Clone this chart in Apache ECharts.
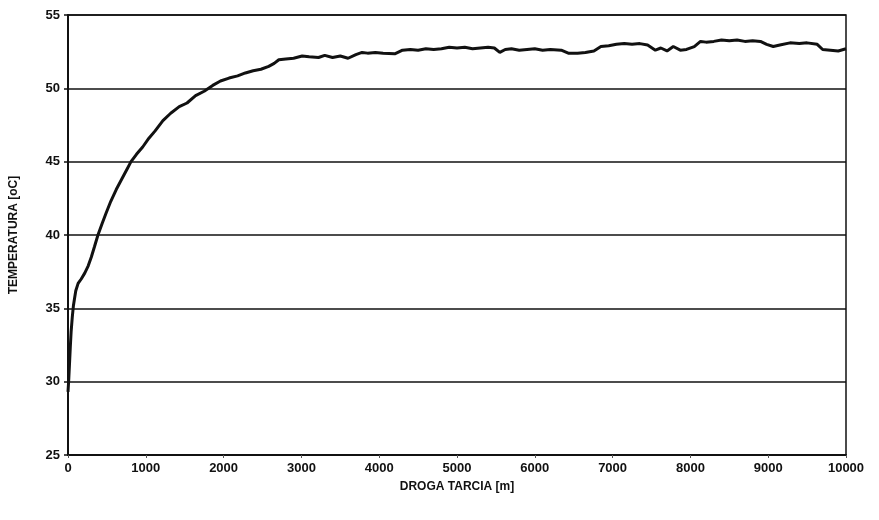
<!DOCTYPE html>
<html>
<head>
<meta charset="utf-8">
<script src="https://cdn.jsdelivr.net/npm/echarts@6/dist/echarts.min.js"></script>
<style>
  html, body { margin: 0; padding: 0; background: #fff; }
  #chart { width: 879px; height: 520px; }
</style>
</head>
<body>
<div id="chart"></div>
<script>
// droga tarcia [m] i temperatura [oC]
var distance = [0, 10, 20, 30, 40, 55, 70, 85, 100, 130, 170, 215, 260, 300, 340, 385, 440, 490, 550, 620,
  700, 760, 810, 880, 960, 1040, 1120, 1220, 1320, 1430, 1530, 1640, 1750, 1860, 1960, 2070, 2180, 2280, 2380, 2480,
  2580, 2650, 2710, 2800, 2900, 3010, 3100, 3220, 3300, 3400, 3500, 3600, 3700, 3780, 3850, 3950, 4050, 4200, 4300, 4400,
  4500, 4600, 4700, 4800, 4900, 5000, 5100, 5200, 5300, 5400, 5480, 5550, 5620, 5700, 5800, 5900, 6000, 6100, 6200, 6340,
  6430, 6550, 6650, 6760, 6850, 6950, 7050, 7150, 7250, 7350, 7450, 7550, 7620, 7700, 7780, 7870, 7950, 8050, 8130, 8200,
  8300, 8400, 8500, 8600, 8700, 8800, 8900, 8980, 9065, 9150, 9280, 9400, 9500, 9630, 9700, 9800, 9900, 10000];
var temperature = [29.3, 30.2, 31.3, 32.4, 33.4, 34.4, 35.2, 35.7, 36.2, 36.7, 37.0, 37.4, 37.9, 38.5, 39.2, 40.0, 40.8, 41.5, 42.3, 43.1,
  43.9, 44.5, 45.0, 45.5, 46.0, 46.6, 47.1, 47.8, 48.3, 48.75, 49.0, 49.5, 49.8, 50.2, 50.5, 50.7, 50.85, 51.05, 51.2, 51.3,
  51.5, 51.7, 51.95, 52.0, 52.05, 52.2, 52.15, 52.1, 52.25, 52.1, 52.2, 52.05, 52.3, 52.45, 52.4, 52.45, 52.4, 52.35, 52.6, 52.65,
  52.6, 52.7, 52.65, 52.7, 52.8, 52.75, 52.8, 52.7, 52.75, 52.8, 52.75, 52.45, 52.65, 52.7, 52.6, 52.65, 52.7, 52.6, 52.65, 52.6,
  52.4, 52.4, 52.45, 52.55, 52.85, 52.9, 53.0, 53.05, 53.0, 53.05, 52.95, 52.6, 52.75, 52.55, 52.85, 52.6, 52.65, 52.85, 53.2, 53.15,
  53.2, 53.3, 53.25, 53.3, 53.2, 53.25, 53.2, 53.0, 52.85, 52.95, 53.1, 53.05, 53.1, 53.0, 52.65, 52.6, 52.55, 52.7];

var xTitle = 'DROGA TARCIA [m]';
var yTitle = 'TEMPERATURA [oC]';

var points = [];
for (var i = 0; i < distance.length; i++) {
  points.push([distance[i], temperature[i]]);
}

var myChart = echarts.init(document.getElementById('chart'));
var labelFont = { fontFamily: 'Liberation Sans', fontWeight: 'bold', fontSize: 13, color: '#111' };

var option = {
  animation: false,
  backgroundColor: '#fff',
  grid: {
    left: 65,
    right: 33,
    top: 15,
    bottom: 65,
    show: true,
    borderColor: '#111',
    borderWidth: 1.5
  },
  xAxis: {
    type: 'value',
    min: 0,
    max: 10000,
    interval: 1000,
    name: xTitle,
    nameLocation: 'middle',
    nameGap: 26,
    nameTextStyle: { fontFamily: 'Liberation Sans', fontWeight: 'bold', fontSize: 12, color: '#111' },
    axisLine: { show: true, onZero: false, lineStyle: { color: '#111', width: 2 } },
    axisTick: { show: true, length: 3, lineStyle: { color: '#555' } },
    axisLabel: Object.assign({ margin: 7, formatter: function (v) { return String(v); } }, labelFont),
    splitLine: { show: false }
  },
  yAxis: {
    type: 'value',
    min: 25,
    max: 55,
    interval: 5,
    name: yTitle,
    nameLocation: 'middle',
    nameGap: 48,
    nameTextStyle: { fontFamily: 'Liberation Sans', fontWeight: 'bold', fontSize: 12, color: '#111' },
    axisLine: { show: true, lineStyle: { color: '#111', width: 2 } },
    axisTick: { show: true, length: 4, lineStyle: { color: '#111', width: 1.5 } },
    axisLabel: Object.assign({ margin: 8 }, labelFont),
    splitLine: { show: true, lineStyle: { color: '#111', width: 1.5 } }
  },
  series: [{
    type: 'line',
    data: points,
    showSymbol: false,
    smooth: false,
    lineStyle: { color: '#111', width: 3 }
  }]
};

myChart.setOption(option, true);
</script>
</body>
</html>
